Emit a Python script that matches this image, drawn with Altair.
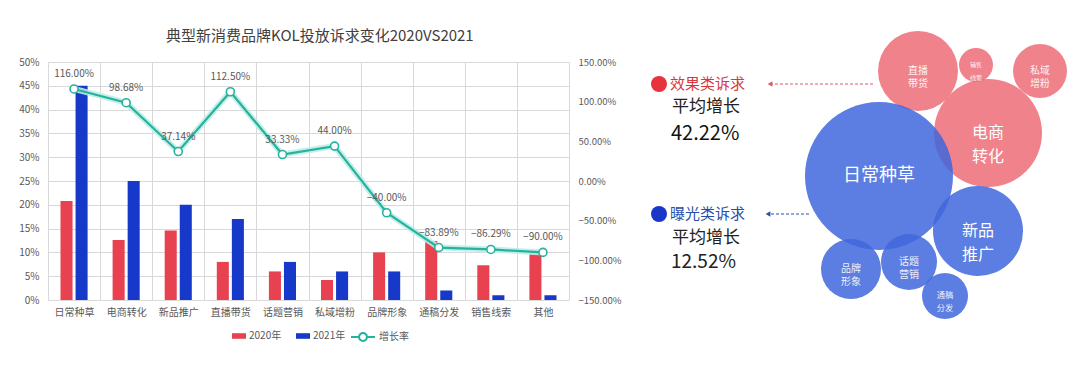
import altair as alt
import pandas as pd

# ---------------- data ----------------
categories = ['日常种草', '电商转化', '新品推广', '直播带货', '话题营销',
              '私域增粉', '品牌形象', '通稿分发', '销售线索', '其他']
share_2020 = [0.208, 0.126, 0.146, 0.080, 0.060, 0.042, 0.100, 0.124, 0.073, 0.100]
share_2021 = [0.45, 0.25, 0.20, 0.17, 0.08, 0.06, 0.06, 0.02, 0.01, 0.01]
growth = [1.16, 0.9868, 0.3714, 1.125, 0.3333, 0.44, -0.40, -0.8389, -0.8629, -0.90]
years = ['2020年', '2021年']
growth_name = '增长率'
left_ticks = [0, 0.05, 0.10, 0.15, 0.20, 0.25, 0.30, 0.35, 0.40, 0.45, 0.50]
right_ticks = [-1.5, -1.0, -0.5, 0.0, 0.5, 1.0, 1.5]

bubble_names = ['直播带货', '销售线索', '私域增粉', '电商转化', '日常种草',
                '新品推广', '品牌形象', '话题营销', '通稿分发']
bubble_group = ['效果类诉求'] * 4 + ['曝光类诉求'] * 5
bubble_x = [915, 973, 1037, 985, 876, 975, 848, 906, 942]
bubble_y = [70, 64, 70, 132, 175, 230, 268, 261, 295]
bubble_r = [40, 17, 27, 54, 74, 45, 30, 28, 23]
groups = ['效果类诉求', '曝光类诉求']

# ---------------- styles ----------------
RED = '#E8414F'
BLUE = '#1739C9'
TEAL = '#25B29E'
GRID = '#D9D9D9'
LABEL = '#595959'
PINK_B = '#ED6C78'
BLUE_B = '#3F66DC'

# ---------------- tables ----------------
bar_df = pd.DataFrame({
    'category': categories * 2,
    'year': [years[0]] * len(categories) + [years[1]] * len(categories),
    'share': share_2020 + share_2021,
})
line_df = pd.DataFrame({'category': categories, 'growth': growth,
                        'series': [growth_name] * len(categories)})

g_map = dict(zip(categories, growth))
bdf = pd.DataFrame({'name': bubble_names, 'group': bubble_group,
                    'x': bubble_x, 'y': bubble_y, 'r': bubble_r})
bdf['area'] = (2 * bdf['r']) ** 2
bdf['label'] = [n if r > 60 else n[:2] + '\n' + n[2:] for n, r in zip(bdf['name'], bdf['r'])]
bdf['fs'] = [18 if r > 60 else (16 if r >= 44 else min(10.0, max(6.0, r * 0.36))) for r in bdf['r']]

avg = {g: sum(g_map[n] for n, gg in zip(bubble_names, bubble_group) if gg == g) /
       sum(1 for gg in bubble_group if gg == g) for g in groups}
avg_text = {g: f"{avg[g] * 100:.2f}%" for g in groups}

# ---------------- left chart ----------------
x_enc = alt.X('category:N', sort=categories,
              scale=alt.Scale(paddingInner=0, paddingOuter=0),
              axis=alt.Axis(title=None, labelAngle=0, tickBand='extent', grid=True,
                            gridColor=GRID, gridWidth=1, ticks=False, domain=False,
                            labelPadding=7, labelFontSize=10, labelColor=LABEL))

bars = alt.Chart(bar_df).mark_bar().encode(
    x=x_enc,
    xOffset=alt.XOffset('year:N', sort=years,
                        scale=alt.Scale(paddingInner=0.2, paddingOuter=0.83)),
    y=alt.Y('share:Q', scale=alt.Scale(domain=[0, 0.5], nice=False),
            axis=alt.Axis(values=left_ticks, format='%', title=None, grid=True,
                          gridColor=GRID, domain=False, ticks=False, labelPadding=9,
                          labelFontSize=10, labelColor=LABEL)),
    color=alt.Color('year:N', scale=alt.Scale(domain=years, range=[RED, BLUE]),
                    legend=alt.Legend(orient='none', direction='horizontal',
                                      legendX=184, legendY=267, title=None,
                                      symbolType='M-1,-0.4H1V0.4H-1Z', symbolSize=196,
                                      symbolStrokeWidth=0, labelFontSize=10,
                                      labelColor=LABEL, labelOffset=3,
                                      columnPadding=14, padding=0)),
)

y_line = alt.Y('growth:Q', scale=alt.Scale(domain=[-1.5, 1.5], nice=False, zero=False),
               axis=alt.Axis(values=right_ticks, format='.2%', orient='right', title=None,
                             grid=False, domain=False, ticks=False, labelPadding=9,
                             labelFontSize=9.5, labelColor=LABEL))

glow = alt.Chart(line_df).mark_line(color='#BFEDE6', strokeWidth=6, opacity=0.9).encode(
    x=x_enc, y=y_line)
line = alt.Chart(line_df).mark_line(strokeWidth=2.2).encode(
    x=x_enc, y=y_line,
    stroke=alt.Stroke('series:N', scale=alt.Scale(domain=[growth_name], range=[TEAL]),
                      legend=alt.Legend(orient='none', legendX=302, legendY=262,
                                        title=None,
                                        symbolType='M-1,0L-0.33,0M0.33,0L1,0M-0.33,0A0.33,0.33,0,1,1,0.33,0A0.33,0.33,0,1,1,-0.33,0',
                                        symbolSize=576, symbolStrokeWidth=2,
                                        symbolFillColor='white', labelFontSize=10,
                                        labelColor=LABEL, labelOffset=3, padding=0)),
)
pts = alt.Chart(line_df).mark_circle(size=64, fill='white', fillOpacity=1, stroke=TEAL,
                                     strokeWidth=1.6, opacity=1).encode(x=x_enc, y=y_line)
lbl = alt.Chart(line_df).mark_text(dy=-15, fontSize=10, color=LABEL).encode(
    x=x_enc, y=y_line, text=alt.Text('growth:Q', format='.2%'))

left = alt.layer(bars, alt.layer(glow, line, pts, lbl)).resolve_scale(
    y='independent').properties(
    width=521, height=238,
    title=alt.TitleParams('典型新消费品牌KOL投放诉求变化2020VS2021', fontSize=15,
                          color='#404040', fontWeight='normal', frame='bounds',
                          anchor='middle', offset=13))

# ---------------- right chart ----------------
# plot origin of this panel lines up with the left plot's top-left (page px 630, 61)
xs = alt.Scale(domain=[630, 1065], nice=False, zero=False)
ys = alt.Scale(domain=[61, 331], nice=False, zero=False, reverse=True)

bubbles = alt.Chart(bdf).mark_circle(opacity=0.85, strokeWidth=1).encode(
    x=alt.X('x:Q', scale=xs, axis=None),
    y=alt.Y('y:Q', scale=ys, axis=None),
    size=alt.Size('area:Q', scale=None, legend=None),
    color=alt.Color('group:N', scale=alt.Scale(domain=groups, range=[PINK_B, BLUE_B]),
                    legend=None),
)
big_lbl = alt.Chart(bdf).transform_filter('datum.r >= 44').mark_text(
    color='white', lineBreak='\n', lineHeight=24, baseline='middle').encode(
    x=alt.X('x:Q', scale=xs, axis=None), y=alt.Y('y:Q', scale=ys, axis=None),
    text='label:N', size=alt.Size('fs:Q', scale=None, legend=None))
small_lbl = alt.Chart(bdf).transform_filter('datum.r < 44').mark_text(
    color='white', lineBreak='\n', lineHeight=13, baseline='middle', opacity=0.9).encode(
    x=alt.X('x:Q', scale=xs, axis=None), y=alt.Y('y:Q', scale=ys, axis=None),
    text='label:N', size=alt.Size('fs:Q', scale=None, legend=None))

one = pd.DataFrame({'k': [0]})


def txt(t, x, y, size, color, weight='normal'):
    return alt.Chart(one).mark_text(text=t, fontSize=size, color=color, align='left',
                                    baseline='middle', fontWeight=weight).encode(
        x=alt.value(x), y=alt.value(y))


def dot(x, y, color):
    return alt.Chart(one).mark_circle(size=256, color=color, opacity=1).encode(
        x=alt.value(x), y=alt.value(y))


def arrow(x1, x2, y, color):
    r = alt.Chart(one).mark_rule(color=color, strokeDash=[3, 2], strokeWidth=1).encode(
        x=alt.value(x1), x2=alt.value(x2), y=alt.value(y))
    h = alt.Chart(one).mark_point(shape='triangle-left', filled=True, size=30,
                                  color=color, opacity=1).encode(
        x=alt.value(x2), y=alt.value(y))
    return r + h


ann = [
    dot(26, 22, '#E8333F'),
    txt(groups[0], 37, 22, 15, '#D9363E'),
    txt('平均增长', 39, 45, 17, '#222222'),
    txt(avg_text[groups[0]], 38, 72, 20, '#111111'),
    arrow(240, 137, 22, '#E05A66'),
    dot(26, 152, '#1A36C8'),
    txt(groups[1], 37, 152, 15, '#2B4BA8'),
    txt('平均增长', 39, 176, 17, '#222222'),
    txt(avg_text[groups[1]], 38, 200, 19, '#222222'),
    arrow(176, 135, 152, '#2F4FA8'),
]

right = alt.layer(bubbles, big_lbl, small_lbl, *ann).properties(width=435, height=270)

chart = alt.hconcat(left, right, spacing=11).resolve_scale(
    color='independent', size='independent', stroke='independent',
    x='independent', y='independent').properties(
    padding={'left': 10, 'top': 21, 'right': 3, 'bottom': 5}
).configure(font='Noto Sans CJK SC').configure_view(strokeWidth=0)

chart.save('out.html', embed_options={'renderer': 'svg', 'actions': False})
